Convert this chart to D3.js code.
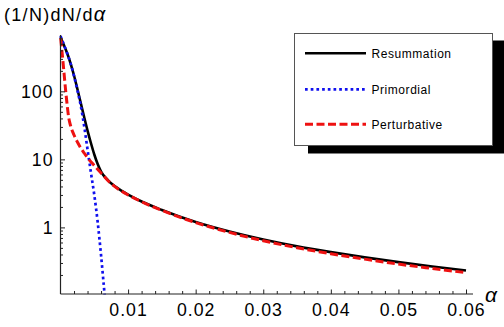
<!DOCTYPE html>
<html>
<head>
<meta charset="utf-8">
<script src="https://cdn.jsdelivr.net/npm/d3@7"></script>
<style>
  html, body { margin: 0; padding: 0; background: #fff; }
  svg { display: block; font-family: "Liberation Sans", Arial, sans-serif; }
</style>
</head>
<body>
<svg id="chart" width="504" height="327"></svg>
<script>
// ---- data ----
const alphaRes = [0, 0.0005, 0.001, 0.0015, 0.002, 0.0025, 0.003, 0.0035, 0.004, 0.0045, 0.005, 0.0055, 0.006, 0.007, 0.008, 0.009, 0.01, 0.012, 0.015, 0.02, 0.025, 0.03, 0.035, 0.04, 0.045, 0.05, 0.055, 0.06];
const resummation = [618, 480, 360, 256, 171, 108, 67.3, 41.9, 26.5, 17.4, 11.8, 8.53, 6.62, 4.96, 4.05, 3.48, 3.04, 2.40, 1.80, 1.197, 0.868, 0.662, 0.526, 0.433, 0.363, 0.309, 0.267, 0.233];

const alphaPrim = [0, 0.0005, 0.001, 0.0015, 0.002, 0.0025, 0.003, 0.0035, 0.004, 0.0045, 0.005, 0.0055, 0.006, 0.0065, 0.007];
const primordial = [650, 485, 360, 256, 168, 104, 61, 31, 14, 6.4, 3.0, 1.2, 0.39, 0.11, 0.03];

const alphaPert = [0.00003, 0.0002, 0.0004, 0.0006, 0.0008, 0.001, 0.0012, 0.0015, 0.002, 0.0025, 0.003, 0.0035, 0.004, 0.005, 0.006, 0.007, 0.008, 0.009, 0.01, 0.012, 0.015, 0.02, 0.025, 0.03, 0.035, 0.04, 0.045, 0.05, 0.055, 0.06];
const perturbative = [600, 405, 252, 152, 94, 61, 42, 31, 22.8, 18.0, 14.7, 12.4, 10.6, 8.1, 6.3, 4.9, 4.0, 3.42, 3.0, 2.38, 1.778, 1.177, 0.844, 0.637, 0.503, 0.410, 0.342, 0.289, 0.249, 0.216];

const xMajorTicks = [0.01, 0.02, 0.03, 0.04, 0.05, 0.06];
const xTickLabels = ["0.01", "0.02", "0.03", "0.04", "0.05", "0.06"];
const yMajorTicks = [1, 10, 100];
const yTickLabels = ["1", "10", "100"];
const legendLabels = ["Resummation", "Primordial", "Perturbative"];

// ---- drawing ----
const svg = d3.select("#chart");
const x = d3.scaleLinear().domain([0, 0.06]).range([60.5, 466]);
const y = d3.scaleLog().domain([0.105, 673]).range([294, 35]);

const axisColor = "#222";
const tickFont = 17.7;

svg.append("defs").append("clipPath").attr("id", "plotclip")
  .append("rect").attr("x", 55).attr("y", 30).attr("width", 420).attr("height", 264.5);

// curves
const series = [
  { xs: alphaRes, ys: resummation, color: "#000", width: 2.6, dash: null },
  { xs: alphaPrim, ys: primordial, color: "#1010ee", width: 2.7, dash: "2.7,3" },
  { xs: alphaPert, ys: perturbative, color: "#ee1111", width: 3, dash: "8,3.5" }
];
const line = d3.line().x(d => x(d[0])).y(d => y(d[1])).curve(d3.curveMonotoneX);
const gCurves = svg.append("g").attr("clip-path", "url(#plotclip)");
series.forEach(s => {
  gCurves.append("path")
    .datum(s.xs.map((a, i) => [a, s.ys[i]]))
    .attr("d", line)
    .attr("fill", "none")
    .attr("stroke", s.color)
    .attr("stroke-width", s.width)
    .attr("stroke-dasharray", s.dash);
});

// x axis
const xMinor = d3.range(1, 31).map(i => +(i * 0.002).toFixed(4)).filter(v => !xMajorTicks.some(m => Math.abs(m - v) < 1e-9));
const gx = svg.append("g").attr("transform", "translate(0,294)");
gx.call(d3.axisBottom(x).tickValues(xMinor).tickFormat("").tickSizeInner(-3).tickSizeOuter(0));
gx.select(".domain").remove();
const gx2 = svg.append("g").attr("transform", "translate(0,294)");
gx2.call(d3.axisBottom(x).tickValues(xMajorTicks).tickFormat((d, i) => xTickLabels[i]).tickSizeInner(-4.5).tickSizeOuter(0).tickPadding(9));
gx2.select(".domain").remove();
svg.append("line").attr("x1", x(0)).attr("x2", 473).attr("y1", 294).attr("y2", 294)
  .attr("stroke", axisColor).attr("stroke-width", 1.2);

// y axis
const yMinor = [];
[0.1, 1, 10, 100].forEach(dec => { for (let k = 2; k <= 9; k++) { const v = k * dec; if (v >= 0.105 && v <= 673) yMinor.push(v); } });
const gy = svg.append("g").attr("transform", `translate(${x(0)},0)`);
gy.call(d3.axisLeft(y).tickValues(yMinor).tickFormat("").tickSizeInner(-2.5).tickSizeOuter(0));
gy.select(".domain").remove();
const gy2 = svg.append("g").attr("transform", `translate(${x(0)},0)`);
gy2.call(d3.axisLeft(y).tickValues(yMajorTicks).tickFormat((d, i) => yTickLabels[i]).tickSizeInner(-4.5).tickSizeOuter(0).tickPadding(7));
gy2.select(".domain").remove();
svg.append("line").attr("x1", x(0)).attr("x2", x(0)).attr("y1", 294).attr("y2", 35)
  .attr("stroke", axisColor).attr("stroke-width", 1.2);

svg.selectAll(".tick line").attr("stroke", axisColor).attr("stroke-width", 1);
svg.selectAll(".tick text")
  .attr("fill", "#000")
  .style("font-size", tickFont + "px")
  .style("letter-spacing", "1px")
  .style("font-family", "'Liberation Sans', Arial, sans-serif");
gy2.selectAll(".tick text").attr("dy", "0.36em");

// axis labels
const yl = svg.append("text").attr("x", 4).attr("y", 21)
  .style("font-size", "18px").attr("fill", "#000");
yl.append("tspan").text("(1/N)dN/d").style("letter-spacing", "1.3px");
yl.append("tspan").text("α").style("font-style", "italic").style("font-size", "20px");

svg.append("text").attr("x", 485).attr("y", 301.5)
  .style("font-size", "21px").style("font-style", "italic").attr("fill", "#000").text("α");

// legend
svg.append("rect").attr("x", 308).attr("y", 40.5).attr("width", 200).attr("height", 113).attr("fill", "#000");
svg.append("rect").attr("x", 294.5).attr("y", 33.5).attr("width", 198).attr("height", 112)
  .attr("fill", "#fff").attr("stroke", "#555").attr("stroke-width", 1);
const rows = [53.3, 89.3, 124.3];
series.forEach((s, i) => {
  svg.append("line").attr("x1", 305).attr("x2", 366).attr("y1", rows[i]).attr("y2", rows[i])
    .attr("stroke", s.color).attr("stroke-width", s.width).attr("stroke-dasharray", s.dash);
  svg.append("text").attr("x", 371.5).attr("y", rows[i] + 4.2)
    .style("font-size", "12px").style("letter-spacing", "0.55px").attr("fill", "#000")
    .text(legendLabels[i]);
});
</script>
</body>
</html>
